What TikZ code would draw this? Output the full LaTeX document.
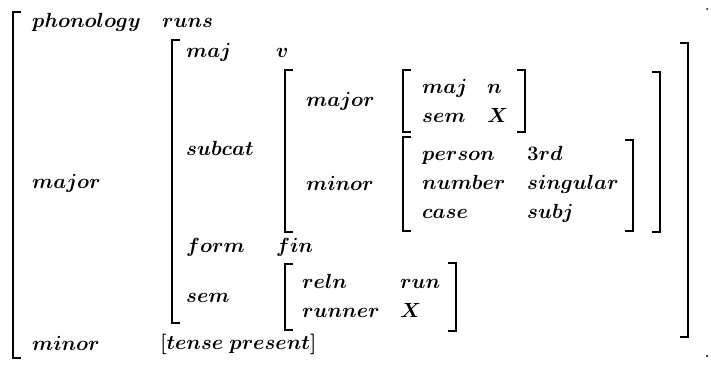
\RequirePackage{fix-cm}
\documentclass[tikz,border=0pt]{standalone}
\usepackage{tikz}
\begin{document}
\begin{tikzpicture}[x=1pt,y=-1pt]
\tikzstyle{feat}=[anchor=base west,inner sep=0pt,font=\fontsize{20.5}{24}\selectfont\boldmath]
\tikzstyle{brak}=[draw,line width=1.8pt]
\def \tick {8}
\useasboundingbox (0,0) rectangle (711,364);
% outer matrix
\node[feat] (phon) at (32,27) {$phonology$};
\node[feat] (runs) at (162,27) {$runs$};
\node[feat] (major) at (32,188) {$major$};
\node[feat] (minor) at (32,350) {$minor$};
\node[feat] (tense) at (160,349) {$[tense\ present]$};
\path[brak] (13+\tick,12) -- (13,12) -- (13,358) -- (13+\tick,358);
\fill (707,9) circle (1pt);
\fill (707,356) circle (1.2pt);
% value of major
\node[feat] (maj) at (186,57) {$maj$};
\node[feat] (v) at (276,57) {$v$};
\node[feat] (subcat) at (186,155) {$subcat$};
\node[feat] (form) at (186,252) {$form$};
\node[feat] (fin) at (276,252) {$fin$};
\node[feat] (sem) at (186,302) {$sem$};
\path[brak] (172+\tick,40) -- (172,40) -- (172,323) -- (172+\tick,323);
\path[brak] (688-\tick,43) -- (688,43) -- (688,337) -- (688-\tick,337);
% value of subcat
\node[feat] (scmajor) at (306,106) {$major$};
\node[feat] (scminor) at (306,190) {$minor$};
\path[brak] (285+\tick,70) -- (285,70) -- (285,232) -- (285+\tick,232);
\path[brak] (660-\tick,72) -- (660,72) -- (660,232) -- (660-\tick,232);
% subcat major
\node[feat] (nmaj) at (422,93) {$maj$};
\node[feat] (nval) at (487,93) {$n$};
\node[feat] (nsem) at (422,122) {$sem$};
\node[feat] (xval) at (487,122) {$X$};
\path[brak] (403+\tick,70) -- (403,70) -- (403,132) -- (403+\tick,132);
\path[brak] (525-\tick,70) -- (525,70) -- (525,132) -- (525-\tick,132);
% subcat minor
\node[feat] (person) at (422,160) {$person$};
\node[feat] (third) at (527,160) {$3rd$};
\node[feat] (number) at (422,189) {$number$};
\node[feat] (sing) at (527,189) {$singular$};
\node[feat] (case) at (422,218) {$case$};
\node[feat] (subj) at (527,218) {$subj$};
\path[brak] (403+\tick,137) -- (403,137) -- (403,231) -- (403+\tick,231);
\path[brak] (633-\tick,140) -- (633,140) -- (633,231) -- (633-\tick,231);
% value of sem
\node[feat] (reln) at (302,288) {$reln$};
\node[feat] (run) at (400,288) {$run$};
\node[feat] (runner) at (302,317) {$runner$};
\node[feat] (rval) at (400,317) {$X$};
\path[brak] (285+\tick,264) -- (285,264) -- (285,330) -- (285+\tick,330);
\path[brak] (456-\tick,263) -- (456,263) -- (456,331) -- (456-\tick,331);
\end{tikzpicture}
\end{document}
